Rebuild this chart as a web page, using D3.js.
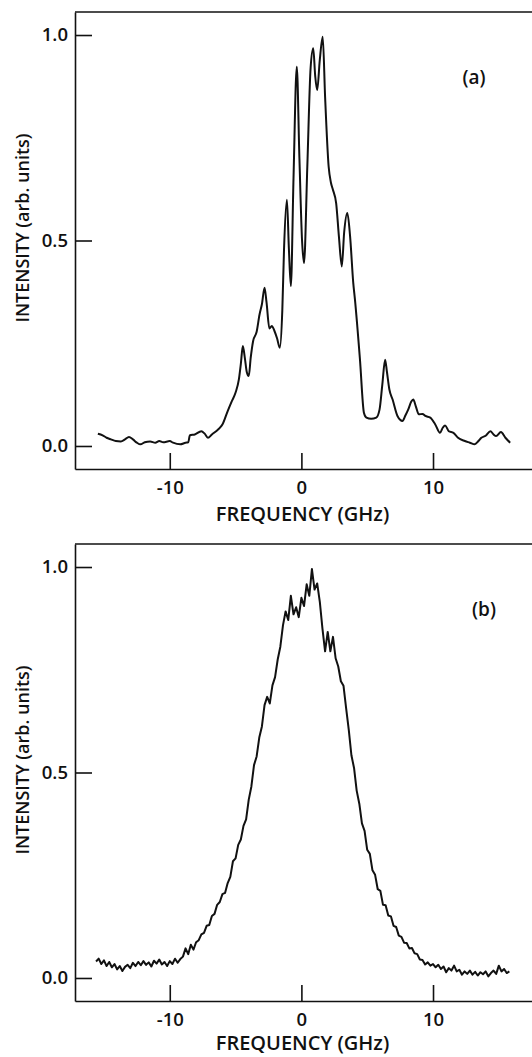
<!DOCTYPE html>
<html>
<head>
<meta charset="utf-8">
<script src="https://cdn.jsdelivr.net/npm/d3@7"></script>
<style>
body{margin:0;background:#fff;}
svg text{font-family:"Open Sans",sans-serif;font-weight:600;fill:#111;}
</style>
</head>
<body>
<svg id="viz" width="532" height="1057"></svg>
<script>
// panel (a): frequency (GHz) and intensity
const freqA = [-15.46,-15.1,-14.8,-14.47,-14.1,-13.72,-13.4,-13.1,-12.8,-12.5,-12.23,-11.9,-11.49,-11.1,-10.8,-10.5,-10.0,-9.75,-9.2,-8.8,
  -8.6,-8.47,-8.1,-7.6,-7.35,-7.1,-6.8,-6.48,-6.2,-5.99,-5.6,-5.3,-5.0,-4.75,-4.6,-4.45,-4.3,-4.15,
  -4.0,-3.85,-3.67,-3.4,-3.18,-3.0,-2.8,-2.65,-2.43,-2.25,-2.06,-1.85,-1.64,-1.45,-1.32,-1.1,-0.95,-0.8,-0.6,-0.35,
  -0.15,0.05,0.2,0.45,0.7,0.9,1.05,1.2,1.4,1.62,1.8,2.07,2.25,2.39,2.64,2.85,3.07,3.25,3.49,3.7,
  3.94,4.07,4.45,4.75,4.94,5.3,5.69,5.94,6.15,6.36,6.5,6.68,6.93,7.3,7.68,7.9,8.12,8.35,8.5,8.7,8.92,9.2,9.42,
  9.79,10.16,10.53,10.75,10.92,11.2,11.55,11.9,12.42,12.8,13.17,13.45,13.67,14.0,14.36,14.6,14.79,15.16,15.5,15.86];
const intensityA = [0.030,0.026,0.020,0.016,0.012,0.011,0.016,0.022,0.016,0.008,0.004,0.009,0.011,0.008,0.012,0.009,0.012,0.008,0.004,0.008,
  0.009,0.026,0.028,0.036,0.030,0.020,0.028,0.036,0.044,0.053,0.085,0.108,0.130,0.162,0.200,0.243,0.215,0.180,
  0.170,0.215,0.255,0.278,0.320,0.345,0.385,0.350,0.286,0.292,0.281,0.262,0.239,0.330,0.478,0.599,0.480,0.389,0.650,0.923,
  0.700,0.500,0.445,0.680,0.920,0.968,0.900,0.866,0.940,0.996,0.850,0.680,0.640,0.624,0.591,0.510,0.437,0.520,0.567,0.510,
  0.397,0.356,0.210,0.081,0.069,0.066,0.069,0.089,0.150,0.210,0.180,0.138,0.113,0.073,0.061,0.074,0.089,0.108,0.113,0.096,0.077,0.078,0.073,
  0.069,0.053,0.032,0.045,0.050,0.036,0.032,0.020,0.012,0.008,0.004,0.012,0.020,0.025,0.036,0.028,0.024,0.034,0.020,0.008];

// panel (b): sampled every 0.2 GHz from -15.6 GHz
const freqStartB = -15.6;
const freqStepB = 0.2;
const intensityB = [0.040,0.047,0.034,0.043,0.029,0.039,0.026,0.034,0.021,0.029,0.017,0.027,0.032,0.024,0.037,0.029,0.039,0.031,0.041,0.032,
  0.038,0.028,0.042,0.035,0.045,0.033,0.039,0.029,0.041,0.034,0.047,0.037,0.046,0.052,0.072,0.058,0.081,0.069,0.087,0.092,
  0.106,0.110,0.127,0.129,0.151,0.156,0.178,0.185,0.204,0.207,0.231,0.246,0.284,0.291,0.324,0.337,0.370,0.386,0.434,0.466,
  0.518,0.539,0.585,0.612,0.664,0.684,0.668,0.712,0.732,0.775,0.806,0.858,0.892,0.871,0.930,0.885,0.902,0.878,0.925,0.905,
  0.958,0.930,0.995,0.945,0.960,0.915,0.850,0.795,0.842,0.795,0.830,0.778,0.758,0.722,0.711,0.656,0.604,0.542,0.511,0.456,
  0.424,0.376,0.358,0.312,0.302,0.262,0.251,0.216,0.212,0.178,0.177,0.152,0.150,0.127,0.124,0.103,0.100,0.086,0.085,0.072,
  0.073,0.060,0.058,0.045,0.044,0.033,0.038,0.030,0.034,0.026,0.032,0.022,0.028,0.014,0.024,0.018,0.030,0.016,0.020,0.008,
  0.016,0.010,0.018,0.008,0.015,0.006,0.014,0.009,0.016,0.004,0.012,0.018,0.010,0.030,0.016,0.022,0.012,0.016];
const freqB = intensityB.map((v,i) => +(freqStartB + i*freqStepB).toFixed(2));

const xTicks = [-10, 0, 10];
const yTicks = [0, 0.5, 1.0];
const xTitle = "FREQUENCY (GHz)";
const yTitle = "INTENSITY (arb. units)";

const svg = d3.select("#viz");

const x = d3.scaleLinear().domain([-17.2, 17.9]).range([75, 537]);
const y = d3.scaleLinear().domain([-0.056, 1.056]).range([469, 12]);

function drawPanel(top, freqs, values, tag, tagX, curve, titleY){
    const g = svg.append("g").attr("transform", `translate(0,${top})`);

    const yAxis = g.append("g")
        .attr("transform", `translate(${x.range()[0]},0)`)
        .call(d3.axisLeft(y).tickValues(yTicks).tickFormat(d3.format(".1f"))
            .tickSize(-17).tickSizeOuter(0).tickPadding(7));
    const xAxis = g.append("g")
        .attr("transform", `translate(0,${y.range()[0]})`)
        .call(d3.axisBottom(x).tickValues(xTicks).tickFormat(d => d)
            .tickSize(-16).tickSizeOuter(0).tickPadding(12));
    [yAxis, xAxis].forEach(a => {
        a.selectAll("path,line").attr("stroke", "#111").attr("stroke-width", 1.6);
        a.selectAll("text").style("font-size", "18.5px");
    });

    g.append("line")
        .attr("x1", x.range()[0]).attr("x2", 532)
        .attr("y1", y.range()[1]).attr("y2", y.range()[1])
        .attr("stroke", "#111").attr("stroke-width", 1.6);

    const pts = freqs.map((f,i) => [f, values[i]]);
    g.append("path")
        .datum(pts)
        .attr("fill", "none")
        .attr("stroke", "#111")
        .attr("stroke-width", 2)
        .attr("stroke-linejoin", "round")
        .attr("d", d3.line().curve(curve).x(d => x(d[0])).y(d => y(d[1])));

    g.append("text")
        .attr("x", tagX).attr("y", 84)
        .attr("text-anchor", "middle")
        .style("font-size", "19px")
        .text(tag);

    g.append("text")
        .attr("x", 302.5).attr("y", titleY)
        .attr("text-anchor", "middle")
        .style("font-size", "20px")
        .text(xTitle);

    g.append("text")
        .attr("transform", "translate(29,228) rotate(-90)")
        .attr("text-anchor", "middle")
        .style("font-size", "18px")
        .text(yTitle);
}

drawPanel(0, freqA, intensityA, "(a)", 474, d3.curveMonotoneX, 521);
drawPanel(532, freqB, intensityB, "(b)", 484, d3.curveLinear, 518);
</script>
</body>
</html>
